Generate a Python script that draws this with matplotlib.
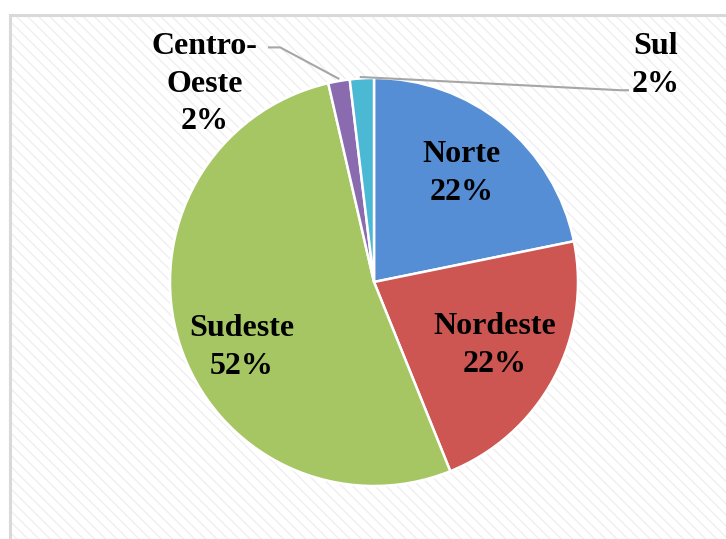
import numpy as np
import matplotlib
matplotlib.use("Agg")
import matplotlib.pyplot as plt
from matplotlib.patches import Rectangle

# data (share of total, %)
regions = ["Norte", "Nordeste", "Sudeste", "Centro-\nOeste", "Sul"]
shares = [21.8, 22.1, 52.5, 1.7, 1.9]
pct_labels = ["22%", "22%", "52%", "2%", "2%"]
colors = ["#558ED5", "#CD5552", "#A6C664", "#8A6BB0", "#4BB8D4"]

# label positions in pie units (radius = 1)
label_pos = {0: (0.43, 0.53), 1: (0.59, -0.31), 2: (-0.65, -0.32),
             3: (-0.83, 0.97), 4: (1.38, 1.06)}

plt.rcParams["font.family"] = ["Liberation Serif", "DejaVu Serif"]
plt.rcParams["hatch.color"] = "#efefef"
plt.rcParams["hatch.linewidth"] = 1.0

W, H = 726, 539
fig = plt.figure(figsize=(W / 100, H / 100), dpi=100)
fig.patch.set_facecolor("white")

# chart area: hatched background and light grey frame (cropped on right/bottom)
x0, ytop = 10 / W, 1 - 15 / H
bg = Rectangle((x0, -0.05), 1.1, ytop + 0.05, transform=fig.transFigure,
               facecolor="white", edgecolor="#efefef", linewidth=0,
               hatch="\\\\\\", zorder=-2)
fig.patches.append(bg)
frame = Rectangle((x0, -0.05), 1.1, ytop + 0.05, transform=fig.transFigure,
                  facecolor="none", edgecolor="#d9d9d9", linewidth=2.2, zorder=-1)
fig.patches.append(frame)

cx, cy, r = 374, 282, 204
ax = fig.add_axes([(cx - r) / W, (H - cy - r) / H, 2 * r / W, 2 * r / H])
ax.set_facecolor("none")
ax.set_zorder(2)

wedges, _ = ax.pie(shares, colors=colors, startangle=90, counterclock=False,
                   radius=1.0, wedgeprops=dict(edgecolor="white", linewidth=1.8))
ax.set_xlim(-1, 1)
ax.set_ylim(-1, 1)
ax.axis("off")

fs = 23
for i, (x, y) in label_pos.items():
    ax.text(x, y, f"{regions[i]}\n{pct_labels[i]}", ha="center", va="center",
            fontsize=fs, fontweight="bold", linespacing=1.4, clip_on=False)

# leader lines (pie units)
ax.plot([-0.52, -0.46, -0.17], [1.15, 1.15, 0.995], color="#a6a6a6",
        lw=1.5, clip_on=False, solid_capstyle="butt")
ax.plot([-0.07, 1.21, 1.25], [1.005, 0.94, 0.94], color="#a6a6a6",
        lw=1.5, clip_on=False, solid_capstyle="butt")

fig.savefig("out.png", dpi=100)
